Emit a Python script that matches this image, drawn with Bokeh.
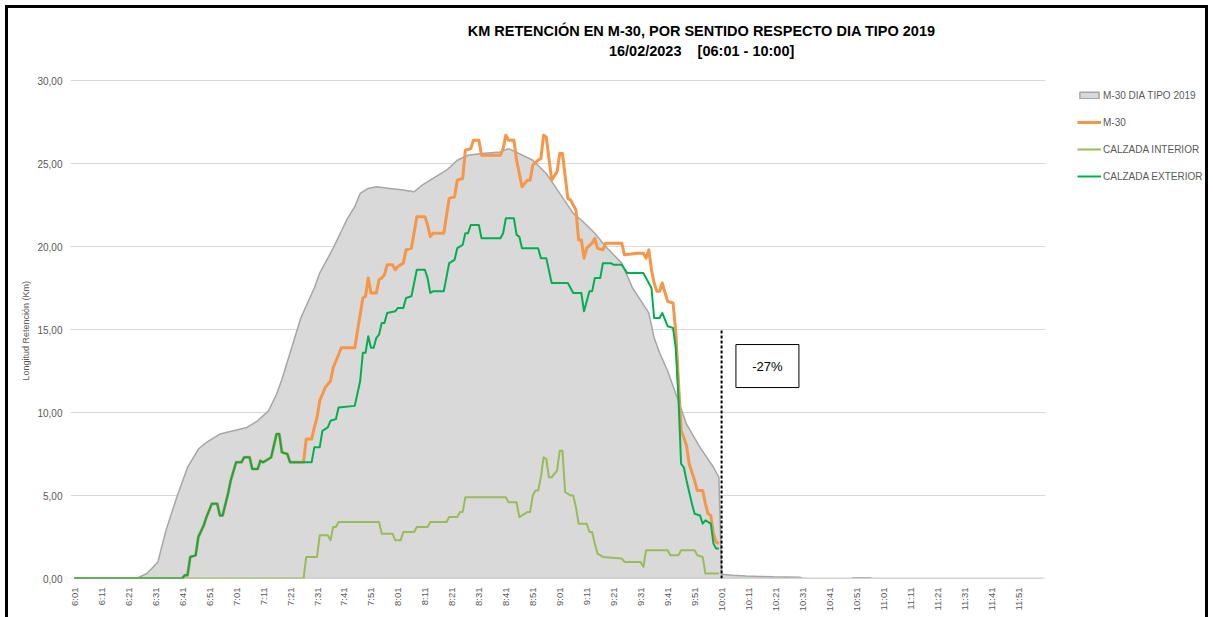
import math
from bokeh.plotting import figure
from bokeh.models import Range1d, FixedTicker, Legend, LegendItem, Title
from bokeh.embed import file_html
from bokeh.resources import INLINE
from bokeh.core.properties import value

# ---------------- DATA ----------------
x_tick_labels = ["6:01", "6:11", "6:21", "6:31", "6:41", "6:51",
                 "7:01", "7:11", "7:21", "7:31", "7:41", "7:51",
                 "8:01", "8:11", "8:21", "8:31", "8:41", "8:51",
                 "9:01", "9:11", "9:21", "9:31", "9:41", "9:51",
                 "10:01", "10:11", "10:21", "10:31", "10:41", "10:51",
                 "11:01", "11:11", "11:21", "11:31", "11:41", "11:51"]
y_ticks = [0, 5, 10, 15, 20, 25, 30]
y_tick_labels = ["0,00", "5,00", "10,00", "15,00", "20,00", "25,00", "30,00"]

# M-30 DIA TIPO 2019 (km)
tipo_t = ["6:01", "6:24", "6:28", "6:32", "6:35", "6:39", "6:43", "6:47", "6:50", "6:55",
          "7:00", "7:05", "7:09", "7:13", "7:16", "7:18", "7:25", "7:30", "7:32", "7:37",
          "7:42", "7:45", "7:47", "7:50", "7:53", "7:58", "8:03", "8:07", "8:10", "8:14",
          "8:19", "8:23", "8:27", "8:32", "8:39", "8:42", "8:46", "8:51", "8:56", "9:01",
          "9:06", "9:09", "9:14", "9:18", "9:24", "9:28", "9:34", "9:36", "9:38", "9:41",
          "9:45", "9:48", "9:53", "9:58", "10:00", "10:01", "10:05", "10:10", "10:15", "10:20",
          "10:30", "10:31", "10:49", "10:50", "10:56", "10:57", "12:00"]
tipo_v = [0.0, 0.0, 0.3, 1.0, 2.9, 4.9, 6.7, 7.8, 8.2, 8.7,
          8.9, 9.1, 9.5, 10.1, 11.1, 12.0, 15.7, 17.5, 18.4, 19.9,
          21.6, 22.4, 23.2, 23.5, 23.6, 23.5, 23.4, 23.3, 23.7, 24.1,
          24.6, 25.2, 25.5, 25.6, 25.7, 25.9, 25.6, 25.2, 24.4, 23.2,
          22.0, 21.6, 20.8, 20.0, 19.0, 17.5, 16.0, 14.5, 13.6, 12.5,
          10.7, 9.3, 7.9, 6.7, 6.1, 0.25, 0.2, 0.15, 0.12, 0.1,
          0.08, 0.0, 0.0, 0.05, 0.05, 0.0, 0.0]

# M-30 (km)
m30_t = ["6:01", "6:41", "6:42", "6:43", "6:44", "6:46", "6:47", "6:49", "6:50", "6:52",
         "6:54", "6:55", "6:56", "6:58", "6:59", "7:01", "7:03", "7:04", "7:06", "7:07",
         "7:09", "7:10", "7:11", "7:13", "7:14", "7:16", "7:17", "7:18", "7:20", "7:21",
         "7:26", "7:27", "7:29", "7:30", "7:31", "7:32", "7:33", "7:34", "7:35", "7:36",
         "7:37", "7:40", "7:45", "7:48", "7:49", "7:50", "7:51", "7:53", "7:54", "7:55",
         "7:56", "7:57", "7:59", "8:00", "8:01", "8:03", "8:04", "8:06", "8:08", "8:11",
         "8:12", "8:13", "8:14", "8:18", "8:20", "8:22", "8:23", "8:25", "8:26", "8:28",
         "8:29", "8:31", "8:32", "8:39", "8:40", "8:41", "8:42", "8:44", "8:45", "8:47",
         "8:48", "8:49", "8:50", "8:51", "8:53", "8:54", "8:55", "8:56", "8:58", "9:00",
         "9:01", "9:02", "9:04", "9:05", "9:07", "9:08", "9:09", "9:10", "9:11", "9:13",
         "9:14", "9:15", "9:17", "9:18", "9:24", "9:25", "9:30", "9:32", "9:33", "9:34",
         "9:35", "9:36", "9:37", "9:38", "9:39", "9:41", "9:43", "9:44", "9:45", "9:46",
         "9:47", "9:48", "9:49", "9:51", "9:52", "9:54", "9:55", "9:56", "9:57", "9:58",
         "9:59", "10:00"]
m30_v = [0.0, 0.0, 0.2, 0.2, 1.3, 1.4, 2.5, 3.2, 3.7, 4.5,
         4.5, 3.8, 3.8, 5.1, 5.9, 7.0, 7.0, 7.3, 7.3, 6.6,
         6.6, 7.1, 7.0, 7.2, 7.3, 8.7, 8.7, 7.6, 7.5, 7.0,
         7.0, 8.4, 8.4, 9.1, 9.7, 10.7, 11.1, 11.5, 11.7, 11.9,
         12.7, 13.9, 13.9, 16.9, 17.0, 18.1, 17.2, 17.2, 18.0, 18.1,
         18.3, 18.9, 18.9, 18.6, 18.8, 19.0, 19.8, 19.9, 21.8, 21.8,
         21.3, 20.6, 20.8, 20.8, 22.9, 23.0, 24.0, 24.1, 25.8, 25.9,
         26.4, 26.4, 25.5, 25.5, 25.9, 26.7, 26.4, 26.4, 25.2, 23.6,
         23.8, 24.0, 24.0, 24.9, 25.2, 25.3, 26.7, 26.6, 24.0, 24.5,
         25.6, 25.6, 22.9, 22.8, 22.2, 20.4, 20.4, 19.3, 19.9, 20.2,
         20.5, 19.9, 19.8, 20.2, 20.2, 19.5, 19.6, 19.6, 19.3, 19.8,
         18.6, 17.8, 17.3, 17.3, 17.8, 16.7, 16.6, 14.9, 11.9, 8.9,
         8.5, 8.0, 6.9, 5.9, 5.3, 5.3, 4.5, 3.9, 3.8, 2.7,
         2.2, 2.1]

# CALZADA INTERIOR (km)
int_t = ["6:01", "7:26", "7:27", "7:31", "7:32", "7:35", "7:36", "7:37", "7:38", "7:39",
         "7:54", "7:55", "7:59", "8:00", "8:02", "8:03", "8:07", "8:08", "8:12", "8:13",
         "8:19", "8:20", "8:23", "8:24", "8:25", "8:26", "8:41", "8:42", "8:45", "8:46",
         "8:47", "8:49", "8:50", "8:51", "8:52", "8:53", "8:54", "8:55", "8:56", "8:57",
         "8:58", "9:00", "9:01", "9:02", "9:03", "9:05", "9:06", "9:07", "9:08", "9:11",
         "9:12", "9:13", "9:14", "9:15", "9:17", "9:24", "9:25", "9:31", "9:32", "9:33",
         "9:41", "9:42", "9:45", "9:46", "9:51", "9:52", "9:54", "9:55", "10:00"]
int_v = [0.0, 0.0, 1.3, 1.3, 2.6, 2.6, 2.3, 3.1, 3.1, 3.4,
         3.4, 2.7, 2.7, 2.3, 2.3, 2.8, 2.8, 3.1, 3.1, 3.4,
         3.4, 3.7, 3.7, 4.0, 4.0, 4.9, 4.9, 4.6, 4.6, 3.7,
         3.8, 4.0, 4.0, 5.0, 5.3, 5.3, 6.1, 7.3, 7.2, 6.1,
         6.1, 6.5, 7.7, 7.7, 5.2, 5.0, 5.0, 4.3, 3.3, 3.3,
         2.8, 2.8, 2.1, 1.5, 1.3, 1.2, 1.0, 1.0, 0.7, 1.7,
         1.7, 1.4, 1.4, 1.7, 1.7, 1.4, 1.3, 0.3, 0.3]

# CALZADA EXTERIOR (km)
ext_t = ["6:01", "6:41", "6:42", "6:43", "6:44", "6:46", "6:47", "6:49", "6:50", "6:52",
         "6:54", "6:55", "6:56", "6:58", "6:59", "7:01", "7:03", "7:04", "7:06", "7:07",
         "7:09", "7:10", "7:11", "7:13", "7:14", "7:16", "7:17", "7:18", "7:20", "7:21",
         "7:29", "7:30", "7:32", "7:33", "7:35", "7:36", "7:38", "7:39", "7:45", "7:47",
         "7:48", "7:49", "7:50", "7:51", "7:52", "7:53", "7:54", "7:55", "7:56", "7:57",
         "8:00", "8:01", "8:03", "8:04", "8:06", "8:08", "8:11", "8:12", "8:13", "8:14",
         "8:18", "8:20", "8:22", "8:23", "8:25", "8:26", "8:27", "8:28", "8:31", "8:32",
         "8:39", "8:40", "8:41", "8:44", "8:45", "8:46", "8:47", "8:53", "8:54", "8:56",
         "8:58", "9:04", "9:06", "9:09", "9:10", "9:11", "9:12", "9:13", "9:14", "9:16",
         "9:17", "9:20", "9:21", "9:24", "9:26", "9:32", "9:34", "9:35", "9:36", "9:38",
         "9:39", "9:41", "9:43", "9:44", "9:45", "9:46", "9:47", "9:48", "9:50", "9:51",
         "9:53", "9:54", "9:55", "9:57", "9:58", "9:59", "10:00"]
ext_v = [0.0, 0.0, 0.2, 0.2, 1.3, 1.4, 2.5, 3.2, 3.7, 4.5,
         4.5, 3.8, 3.8, 5.1, 5.9, 7.0, 7.0, 7.3, 7.3, 6.6,
         6.6, 7.1, 7.0, 7.2, 7.3, 8.7, 8.7, 7.6, 7.5, 7.0,
         7.0, 7.9, 7.9, 8.9, 9.1, 9.5, 9.6, 10.3, 10.4, 11.9,
         13.6, 13.6, 14.6, 13.9, 13.9, 14.5, 14.7, 15.4, 15.4, 16.0,
         16.1, 16.3, 16.3, 16.9, 17.0, 18.6, 18.6, 18.1, 17.2, 17.3,
         17.3, 19.0, 19.2, 19.9, 20.1, 20.8, 20.8, 21.3, 21.3, 20.5,
         20.5, 20.8, 21.7, 21.7, 20.7, 20.6, 19.9, 19.9, 19.3, 19.3,
         17.8, 17.8, 17.2, 17.2, 16.1, 16.7, 17.3, 17.3, 18.1, 18.1,
         19.0, 19.0, 18.9, 18.9, 18.4, 18.4, 17.8, 17.5, 15.7, 15.7,
         16.0, 15.2, 15.1, 13.9, 10.9, 6.9, 6.7, 5.9, 4.5, 3.9,
         3.8, 3.3, 3.5, 3.3, 2.1, 1.8, 1.8]

title_line1 = "KM RETENCIÓN EN M-30, POR SENTIDO RESPECTO DIA TIPO 2019"
title_line2 = "16/02/2023\u00a0\u00a0\u00a0 [06:01 - 10:00]"
variation_text = "-27%"
cutoff_time = "10:01"


def to_min(s):
    h, m = s.split(":")
    return int(h) * 60 + int(m) - (6 * 60 + 1)


tipo_x = [to_min(t) for t in tipo_t]
m30_x = [to_min(t) for t in m30_t]
int_x = [to_min(t) for t in int_t]
ext_x = [to_min(t) for t in ext_t]
x_ticks = [to_min(t) for t in x_tick_labels]

FONT = "Liberation Sans"
GREY_TXT = "#595959"
GRID = "#D9D9D9"

# chart (plot-area) extent in minutes; the frame is wider so the legend and
# the title can live inside it
X0, X1 = -1.4, 360.1

p = figure(width=1213, height=617, output_backend="svg", toolbar_location=None,
           x_range=Range1d(X0, 419.05), y_range=Range1d(0, 34.1),
           min_border_left=70, min_border_right=9, min_border_top=12, min_border_bottom=39)
p.outline_line_color = None
p.background_fill_color = "white"
p.border_fill_alpha = 0
p.styles = {"box-shadow": "inset 5px 5px 0 0 #ffffff, inset -5px 0 0 0 #ffffff, "
                          "inset 8px 8px 0 0 #000000, inset -8px 0 0 0 #000000"}

# horizontal gridlines limited to the plot area
p.xgrid.visible = False
p.ygrid.visible = False
p.segment(x0=[X0] * (len(y_ticks) - 1), y0=y_ticks[1:], x1=[X1] * (len(y_ticks) - 1), y1=y_ticks[1:],
          line_color=GRID, line_width=1)

# area (typical day)
area_xs = tipo_x + [tipo_x[-1], tipo_x[0]]
area_ys = tipo_v + [0, 0]
area_r = p.patch(area_xs, area_ys, fill_color="#D9D9D9", line_color="#A6A6A6", line_width=1.5)

# category axis base line
p.segment(x0=[X0], y0=[0], x1=[X1], y1=[0], line_color=GRID, line_width=1.5)

m30_r = p.line(m30_x, m30_v, line_color="#F79646", line_width=3, line_join="round")
int_r = p.line(int_x, int_v, line_color="#9BBB59", line_width=2, line_join="round")
ext_r = p.line(ext_x, ext_v, line_color="#00B050", line_width=2, line_join="round")

# cutoff dashed line
cx = to_min(cutoff_time)
p.segment(x0=[cx], y0=[0], x1=[cx], y1=[15], line_color="black", line_width=2, line_dash="3 2")

# variation box
p.rect(x=[cx + 17], y=[12.8], width=63, height=43, width_units="screen", height_units="screen",
       fill_color="white", line_color="black", line_width=1)
p.text(x=[cx + 17], y=[12.8], text=[variation_text], text_align="center", text_baseline="middle",
       text_font=value(FONT), text_font_size="13px", text_color="#000000")

# title lines
p.text(x=[232.6], y=[33.0], text=[title_line1], text_align="center", text_baseline="middle",
       text_font=value(FONT), text_font_size="14.5px", text_font_style="bold", text_color="#000000")
p.text(x=[232.6], y=[31.8], text=[title_line2], text_align="center", text_baseline="middle",
       text_font=value(FONT), text_font_size="14.5px", text_font_style="bold", text_color="#000000")

# axes
p.yaxis.ticker = FixedTicker(ticks=y_ticks)
p.yaxis.major_label_overrides = {t: l for t, l in zip(y_ticks, y_tick_labels)}
p.yaxis.axis_line_color = None
p.yaxis.major_tick_line_color = None
p.yaxis.minor_tick_line_color = None
p.yaxis.major_tick_out = 0
p.yaxis.major_tick_in = 0
p.yaxis.major_label_text_font = FONT
p.yaxis.major_label_text_font_size = "10px"
p.yaxis.major_label_text_color = GREY_TXT
p.yaxis.major_label_standoff = 8

p.add_layout(Title(text="Longitud Retención (Km)", align="left", offset=198,
                   text_font=FONT, text_font_size="9px", text_font_style="normal",
                   text_color=GREY_TXT, standoff=8), "left")

p.xaxis.ticker = FixedTicker(ticks=x_ticks)
p.xaxis.major_label_overrides = {t: l for t, l in zip(x_ticks, x_tick_labels)}
p.xaxis.major_label_orientation = math.pi / 2
p.xaxis.axis_line_color = None
p.xaxis.major_tick_line_color = None
p.xaxis.minor_tick_line_color = None
p.xaxis.major_tick_out = 0
p.xaxis.major_tick_in = 0
p.xaxis.major_label_text_font = FONT
p.xaxis.major_label_text_font_size = "9.5px"
p.xaxis.major_label_text_color = GREY_TXT
p.xaxis.major_label_standoff = 9

legend = Legend(items=[LegendItem(label="M-30 DIA TIPO 2019", renderers=[area_r]),
                       LegendItem(label="M-30", renderers=[m30_r]),
                       LegendItem(label="CALZADA INTERIOR", renderers=[int_r]),
                       LegendItem(label="CALZADA EXTERIOR", renderers=[ext_r])],
                location=(1007, 395), orientation="vertical",
                glyph_width=24, glyph_height=8, label_height=14, spacing=13,
                padding=0, margin=0, label_standoff=2,
                label_text_font=FONT, label_text_font_size="10px", label_text_color=GREY_TXT,
                background_fill_alpha=0, border_line_alpha=0)
p.add_layout(legend)

open("out.html", "w").write(file_html(p, INLINE))
